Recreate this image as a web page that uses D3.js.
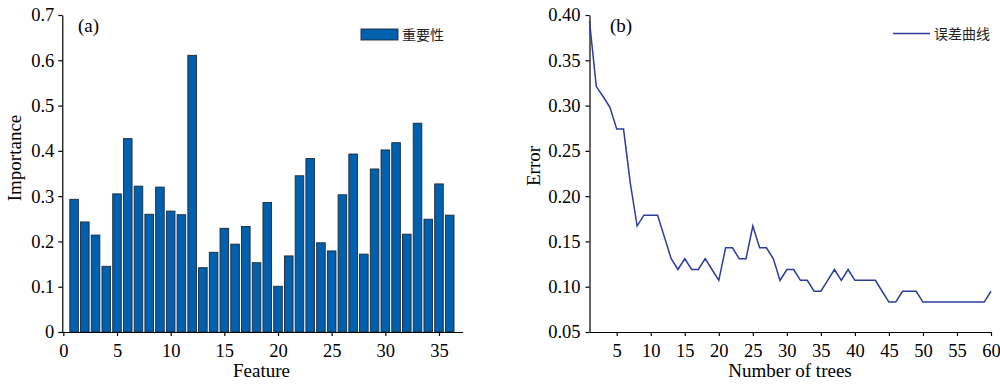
<!DOCTYPE html>
<html>
<head>
<meta charset="utf-8">
<title>importance-error</title>
<style>
  body { margin: 0; background: #fff; }
  text { font-family: "Liberation Serif", "Times New Roman", serif; }
  .cjk { font-family: "Noto Sans CJK SC", sans-serif; }
</style>
</head>
<body>
<main></main>
<script src="https://cdn.jsdelivr.net/npm/d3@7/dist/d3.min.js"></script>
<script>
    // 特征重要性
    var features = d3.range(1, 37);
    var importance = [0.293, 0.243, 0.214, 0.145, 0.305, 0.427, 0.322, 0.260, 0.320, 0.267,
        0.259, 0.611, 0.142, 0.176, 0.229, 0.194, 0.233, 0.153, 0.286, 0.101,
        0.168, 0.345, 0.383, 0.197, 0.179, 0.303, 0.393, 0.172, 0.360, 0.402,
        0.418, 0.216, 0.461, 0.249, 0.327, 0.258];
    var featureTicks = [0, 5, 10, 15, 20, 25, 30, 35];
    var importanceTicks = [0, 0.1, 0.2, 0.3, 0.4, 0.5, 0.6, 0.7];

    // 误差曲线
    var trees = d3.range(1, 61);
    var error = [0.393, 0.321, 0.310, 0.298, 0.274, 0.274, 0.214, 0.167, 0.179, 0.179,
        0.179, 0.155, 0.131, 0.119, 0.131, 0.119, 0.119, 0.131, 0.119, 0.107,
        0.143, 0.143, 0.131, 0.131, 0.167, 0.143, 0.143, 0.131, 0.107, 0.119,
        0.119, 0.107, 0.107, 0.095, 0.095, 0.107, 0.119, 0.107, 0.119, 0.107,
        0.107, 0.107, 0.107, 0.095, 0.083, 0.083, 0.095, 0.095, 0.095, 0.083,
        0.083, 0.083, 0.083, 0.083, 0.083, 0.083, 0.083, 0.083, 0.083, 0.095];
    var treeTicks = [5, 10, 15, 20, 25, 30, 35, 40, 45, 50, 55, 60];
    var errorTicks = [0.05, 0.10, 0.15, 0.20, 0.25, 0.30, 0.35, 0.40];

    var width = 1000;
    var height = 384;
    var svg = d3.select("main")
        .append("svg")
        .attr("width", width)
        .attr("height", height);

    function styleAxis(g) {
        g.selectAll("path, line").attr("stroke", "#000").attr("stroke-width", 1.2);
        g.selectAll("text").attr("font-family", "Liberation Serif, serif")
            .attr("font-size", 18.5).attr("fill", "#000");
    }

    // ---------- (a) ----------
    var xA = d3.scaleLinear().domain([-0.2, 37.2]).range([61.2, 462.6]);
    var yA = d3.scaleLinear().domain([0, 0.7]).range([332, 15]);
    var gA = svg.append("g");

    gA.selectAll("rect.bar")
        .data(importance)
        .enter()
        .append("rect")
        .attr("class", "bar")
        .attr("x", function (d, i) { return xA(features[i] - 0.4); })
        .attr("y", function (d) { return yA(d); })
        .attr("width", function (d, i) { return xA(features[i] + 0.4) - xA(features[i] - 0.4); })
        .attr("height", function (d) { return yA(0) - yA(d); })
        .attr("fill", "#0060ae")
        .attr("stroke", "#1a2a3a")
        .attr("stroke-width", 0.9);

    gA.append("g")
        .attr("transform", "translate(0," + yA(0) + ")")
        .call(d3.axisBottom(xA).tickValues(featureTicks).tickFormat(d3.format("d"))
            .tickSize(4).tickSizeOuter(0).tickPadding(8))
        .call(styleAxis);

    gA.append("g")
        .attr("transform", "translate(" + xA(-0.1) + ",0)")
        .call(d3.axisLeft(yA).tickValues(importanceTicks)
            .tickFormat(function (d) { return d === 0 ? "0" : d3.format(".1f")(d); })
            .tickSize(4).tickSizeOuter(0).tickPadding(4))
        .call(styleAxis);

    gA.append("text").attr("x", 78).attr("y", 32).attr("font-size", 19).text("(a)");
    gA.append("text").attr("x", 261.5).attr("y", 377).attr("font-size", 19)
        .attr("text-anchor", "middle").text("Feature");
    gA.append("text").attr("transform", "translate(21,158) rotate(-90)")
        .attr("font-size", 19).attr("text-anchor", "middle").text("Importance");

    gA.append("rect").attr("x", 361).attr("y", 29).attr("width", 37).attr("height", 11)
        .attr("fill", "#0060ae").attr("stroke", "#1a2a3a").attr("stroke-width", 0.9);
    gA.append("text").attr("class", "cjk").attr("x", 402).attr("y", 40)
        .attr("font-size", 14).attr("fill", "#222").text("重要性");

    // ---------- (b) ----------
    var xB = d3.scaleLinear().domain([1, 60]).range([589.5, 991]);
    var yB = d3.scaleLinear().domain([0.05, 0.40]).range([332, 15]);
    var gB = svg.append("g");

    gB.append("g")
        .attr("transform", "translate(0," + yB(0.05) + ")")
        .call(d3.axisBottom(xB).tickValues(treeTicks).tickFormat(d3.format("d"))
            .tickSize(4).tickSizeOuter(0).tickPadding(8))
        .call(styleAxis);

    gB.append("g")
        .attr("transform", "translate(" + xB(1) + ",0)")
        .call(d3.axisLeft(yB).tickValues(errorTicks).tickFormat(d3.format(".2f"))
            .tickSize(4).tickSizeOuter(0).tickPadding(5))
        .call(styleAxis);

    var line = d3.line()
        .x(function (d, i) { return xB(trees[i]); })
        .y(function (d) { return yB(d); });

    gB.append("path")
        .datum(error)
        .attr("d", line)
        .attr("fill", "none")
        .attr("stroke", "#2b3c9c")
        .attr("stroke-width", 1.5);

    gB.append("text").attr("x", 610).attr("y", 32).attr("font-size", 19).text("(b)");
    gB.append("text").attr("x", 790).attr("y", 377).attr("font-size", 19)
        .attr("text-anchor", "middle").text("Number of trees");
    gB.append("text").attr("transform", "translate(540,166) rotate(-90)")
        .attr("font-size", 19).attr("text-anchor", "middle").text("Error");

    gB.append("line").attr("x1", 893).attr("x2", 930).attr("y1", 33.5).attr("y2", 33.5)
        .attr("stroke", "#2b3c9c").attr("stroke-width", 1.5);
    gB.append("text").attr("class", "cjk").attr("x", 934).attr("y", 39)
        .attr("font-size", 14).attr("fill", "#222").text("误差曲线");
</script>
</body>
</html>
